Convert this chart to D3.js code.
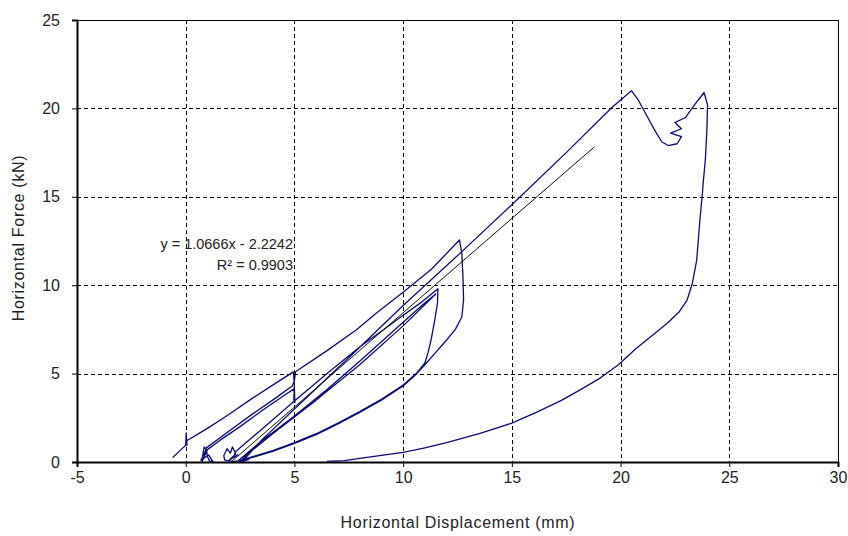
<!DOCTYPE html>
<html>
<head>
<meta charset="utf-8">
<script src="https://cdn.jsdelivr.net/npm/d3@7"></script>
<style>
	body { margin: 0; background: #fff; }
	svg { font-family: "Liberation Sans", Arial, sans-serif; }
</style>
</head>
<body>
<svg id="chart" width="848" height="536"></svg>
<script>
var xTicks = [-5, 0, 5, 10, 15, 20, 25, 30];
var yTicks = [0, 5, 10, 15, 20, 25];

// displacement (mm) and force (kN), one cycle per line
var disp = [
	-0.6, -0.3, 0, 0.02, 0.06, 0.05, 1, 2, 2.94, 4, 4.95, 5, 4.97, 5.02, 5, 4.5, 3.5, 2.5, 1.6, 1, 0.85, 0.75,
	0.8, 0.85, 0.95, 1, 1.1, 1.25, 1.05, 0.7, 0.9,
	0.95, 2, 3, 4, 4.9, 5, 5.05, 6.5, 7.84, 8.76, 10, 11.3, 12.59, 12.7, 12.75, 12.78, 12.7, 12.4, 12, 11.5, 11, 10.5, 10, 9, 8, 7, 6, 5, 4, 3.2, 2.6, 2.2,
	1.8, 1.75, 1.9, 2.05, 2.15, 2.3, 2.0, 2.4, 2.2,
	2.3, 3.5, 5, 6.5, 8, 9, 10, 10.8, 11.6, 11.58, 11.45, 11.3, 11.15, 11, 10.6, 10, 9, 8, 7, 6, 5, 4, 3.2, 2.4,
	3.5, 5, 6.5, 8, 9, 10, 10.9, 11.5, 10, 8, 6, 4, 2.8, 2.5, 2.9, 2.6,
	3.5, 5, 7.5, 10, 12.7, 15.3, 17.5, 19.6, 20.5, 20.8, 21.2, 21.6, 21.9, 22.2, 22.6, 22.8, 22.3, 22.8, 22.5, 23, 23.4, 23.84,
	24, 23.97, 23.9, 23.8, 23.75, 23.65, 23.5, 23.3, 23.06, 22.7, 22.2, 21.5, 20.7, 19.9, 19, 18.1, 17.3, 16.2, 15, 13.5, 12, 11, 10, 9, 8, 7.3, 6.5
];
var force = [
	0.25, 0.6, 0.95, 1.65, 0.95, 1.2, 1.9, 2.7, 3.5, 4.35, 5.1, 4.4, 3.5, 3.35, 4.15, 3.75, 2.9, 2.0, 1.25, 0.7, 0.3, 0.02,
	0.5, 0.85, 0.7, 0.3, 0.05, 0.02, 0.4, 0.1, 0.6,
	0.8, 1.75, 2.65, 3.5, 4.3, 4.6, 5.1, 6.3, 7.47, 8.41, 9.6, 10.9, 12.56, 11.8, 10.5, 9.2, 8.2, 7.5, 6.9, 6.2, 5.5, 4.85, 4.3, 3.5, 2.8, 2.15, 1.55, 1.05, 0.6, 0.3, 0.1, 0.02,
	0.1, 0.35, 0.75, 0.5, 0.85, 0.45, 0.1, 0.4, 0.25,
	0.6, 1.85, 3.45, 5, 6.5, 7.4, 8.3, 9, 9.8, 9, 8, 7, 6.2, 5.6, 5, 4.35, 3.55, 2.85, 2.2, 1.6, 1.1, 0.65, 0.35, 0.05,
	1.2, 2.6, 4.1, 5.7, 6.8, 7.9, 8.9, 9.5, 7.7, 5.5, 3.5, 1.6, 0.4, 0.0, 0.15, 0.02,
	1.25, 3, 5.9, 8.85, 11.9, 14.9, 17.5, 20.05, 21, 20.5, 19.6, 18.7, 18.1, 17.9, 18, 18.4, 18.6, 18.85, 19.2, 19.5, 20.2, 20.9,
	20.2, 18.8, 17.1, 15.8, 15, 13.7, 11.4, 10.1, 9.16, 8.5, 7.9, 7.2, 6.4, 5.5, 4.7, 4.05, 3.5, 2.85, 2.2, 1.6, 1.1, 0.8, 0.55, 0.38, 0.2, 0.08, 0.03
];

// linear trendline as printed on the chart
var trendSlope = 1.0666;
var trendIntercept = -2.2242;
var trendRange = [2.1, 18.8];
var trendLabels = ["y = 1.0666x - 2.2242", "R\u00b2 = 0.9903"];

var svg = d3.select("#chart");
var plotLeft = 77, plotRight = 838, plotTop = 20, plotBottom = 462;

var x = d3.scaleLinear().domain([-5, 30]).range([plotLeft, plotRight]);
var y = d3.scaleLinear().domain([0, 25]).range([plotBottom, plotTop]);

var grid = svg.append("g")
	.attr("stroke", "#000")
	.attr("stroke-width", 1)
	.attr("stroke-dasharray", "4,3");

grid.selectAll("line.v")
	.data(xTicks.filter(function(d){ return d > -5 && d < 30; }))
	.enter()
	.append("line")
	.attr("class", "v")
	.attr("x1", function(d){ return Math.round(x(d)) + 0.5; })
	.attr("x2", function(d){ return Math.round(x(d)) + 0.5; })
	.attr("y1", plotTop)
	.attr("y2", plotBottom);

grid.selectAll("line.h")
	.data(yTicks.filter(function(d){ return d > 0 && d < 25; }))
	.enter()
	.append("line")
	.attr("class", "h")
	.attr("x1", plotLeft)
	.attr("x2", plotRight)
	.attr("y1", function(d){ return Math.round(y(d)) + 0.5; })
	.attr("y2", function(d){ return Math.round(y(d)) + 0.5; });

svg.append("rect")
	.attr("x", plotLeft + 0.5)
	.attr("y", plotTop + 0.5)
	.attr("width", plotRight - plotLeft)
	.attr("height", plotBottom - plotTop)
	.attr("fill", "none")
	.attr("stroke", "#000")
	.attr("stroke-width", 1);

var pts = disp.map(function(d, i){ return [d, force[i]]; });

svg.append("path")
	.datum(pts)
	.attr("fill", "none")
	.attr("stroke", "#0c0c78")
	.attr("stroke-width", 1.3)
	.attr("stroke-linejoin", "round")
	.attr("d", d3.line()
		.x(function(d){ return x(d[0]); })
		.y(function(d){ return y(d[1]); }));

svg.append("line")
	.attr("x1", x(trendRange[0]))
	.attr("y1", y(trendSlope * trendRange[0] + trendIntercept))
	.attr("x2", x(trendRange[1]))
	.attr("y2", y(trendSlope * trendRange[1] + trendIntercept))
	.attr("stroke", "#111")
	.attr("stroke-width", 1);

var xAxis = svg.append("g")
	.attr("transform", "translate(0," + plotBottom + ")")
	.call(d3.axisBottom(x).tickValues(xTicks).tickSize(5).tickPadding(5).tickFormat(String));

var yAxis = svg.append("g")
	.attr("transform", "translate(" + plotLeft + ",0)")
	.call(d3.axisLeft(y).tickValues(yTicks).tickSize(5).tickPadding(12).tickFormat(String));

[xAxis, yAxis].forEach(function(a){
	a.select(".domain").attr("stroke", "#000").attr("stroke-width", 2);
	a.selectAll(".tick line").attr("stroke", "#000");
	a.selectAll(".tick text")
		.attr("fill", "#222")
		.style("font-family", "'Liberation Sans', Arial, sans-serif")
		.style("font-size", "16px");
});

svg.append("text")
	.attr("x", 458)
	.attr("y", 528)
	.attr("text-anchor", "middle")
	.attr("fill", "#222")
	.style("font-size", "16px")
	.style("letter-spacing", "0.7px")
	.text("Horizontal Displacement (mm)");

svg.append("text")
	.attr("transform", "translate(24,238) rotate(-90)")
	.attr("text-anchor", "middle")
	.attr("fill", "#222")
	.style("font-size", "16px")
	.style("letter-spacing", "0.7px")
	.text("Horizontal Force (kN)");

var lbl = svg.append("text")
	.attr("fill", "#222")
	.attr("text-anchor", "end")
	.style("font-size", "14.5px");

lbl.append("tspan")
	.attr("x", 293)
	.attr("y", 249)
	.text(trendLabels[0]);

lbl.append("tspan")
	.attr("x", 293)
	.attr("y", 270)
	.text(trendLabels[1]);
</script>
</body>
</html>
